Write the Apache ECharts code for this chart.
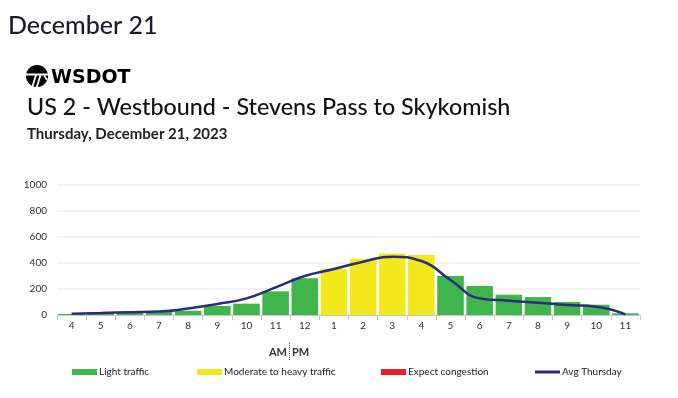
<!DOCTYPE html>
<html>
<head>
<meta charset="utf-8">
<script src="https://cdn.jsdelivr.net/npm/echarts@6/dist/echarts.min.js"></script>
<style>
html,body{margin:0;padding:0;background:#fff;}
#c{width:678px;height:398px;}
</style>
</head>
<body>
<div id="c"></div>
<script>
const hours = ['4','5','6','7','8','9','10','11','12','1','2','3','4','5','6','7','8','9','10','11'];
const volumes = [8,14,19,27,33,69,87,182,282,356,433,474,462,300,223,156,138,100,79,13];
const levels = ['light','light','light','light','light','light','light','light','light','moderate','moderate','moderate','moderate','light','light','light','light','light','light','light'];
const avgThursday = [10,16,22,27,50,85,128,213,300,354,410,449,415,269,128,110,95,77,64,5];
const yTicks = [0,200,400,600,800,1000];

const GREEN = '#40b54b', YELLOW = '#f2e81c', RED = '#ee1c25', NAVY = '#2c2c7c';
const lightData = volumes.map((v,i)=> levels[i]==='light' ? v : '-');
const modData = volumes.map((v,i)=> levels[i]==='moderate' ? v : '-');
const congData = volumes.map((v,i)=> levels[i]==='congestion' ? v : '-');

const chart = echarts.init(document.getElementById('c'), null, {renderer:'canvas'});
const FONT = 'Lato';
function legendAt(name, left, icon){
  return {data:[{name:name, icon:icon}], left:left, top:362, itemWidth:25, itemHeight:icon==='rect'?6:4, itemGap:0,
    textStyle:{fontFamily:FONT, fontSize:10, color:'#222', padding:[0,0,0,-3]}, selectedMode:false};
}
chart.setOption({
  animation:false,
  textStyle:{fontFamily:FONT},
  grid:{left:57, right:38, top:185, bottom:83},
  legend:[
    legendAt('Light traffic', 67, 'rect'),
    legendAt('Moderate to heavy traffic', 192, 'rect'),
    legendAt('Expect congestion', 376, 'rect'),
    legendAt('Avg Thursday', 530, 'path://M0,0 L25,0 L25,3 L0,3 Z')
  ],
  xAxis:{type:'category', data:hours, boundaryGap:true,
    axisLine:{lineStyle:{color:'#c8c8c8', width:1}},
    axisTick:{show:true, alignWithLabel:false, length:5, lineStyle:{color:'#c8c8c8'}},
    axisLabel:{color:'#333', fontSize:10, fontFamily:FONT, margin:6, interval:0}},
  yAxis:{type:'value', min:yTicks[0], max:yTicks[yTicks.length-1], interval:200,
    axisLine:{show:false}, axisTick:{show:false},
    axisLabel:{color:'#333', fontSize:10, fontFamily:FONT, margin:10, formatter:(v)=>String(v)},
    splitLine:{lineStyle:{color:'#eeeeee', width:1.5}}},
  series:[
    {name:'Light traffic', type:'bar', stack:'v', data:lightData, itemStyle:{color:GREEN}, barCategoryGap:'9%'},
    {name:'Moderate to heavy traffic', type:'bar', stack:'v', data:modData, itemStyle:{color:YELLOW}},
    {name:'Expect congestion', type:'bar', stack:'v', data:congData, itemStyle:{color:RED}},
    {name:'Avg Thursday', type:'line', data:avgThursday, smooth:0.5, symbol:'none',
      itemStyle:{color:NAVY}, lineStyle:{color:NAVY, width:2.5}, z:5}
  ],
  graphic:[
    {type:'text', x:8, y:26, style:{text:'December 21', font:'500 25px Lato', fill:'#1c1c28', verticalAlign:'middle'}},
    {type:'circle', shape:{cx:37, cy:76, r:11}, style:{fill:'#000'}},
    {type:'rect', shape:{x:25, y:73.5, width:24, height:2}, style:{fill:'#fff'}},
    {type:'polyline', shape:{points:[[36,75],[32,88]]}, style:{stroke:'#fff', lineWidth:1.8}},
    {type:'polyline', shape:{points:[[40.5,75],[36.5,88]]}, style:{stroke:'#fff', lineWidth:1.8}},
    {type:'polyline', shape:{points:[[44,75],[47,80]]}, style:{stroke:'#fff', lineWidth:1.5}},
    {type:'text', x:51, y:78, style:{text:'WSDOT', font:'900 19px "DejaVu Sans"', fill:'#000', verticalAlign:'middle'}},
    {type:'text', x:27, y:107, style:{text:'US 2 - Westbound - Stevens Pass to Skykomish', font:'500 23.3px Lato', fill:'#111', verticalAlign:'middle'}},
    {type:'text', x:27, y:134, style:{text:'Thursday, December 21, 2023', font:'bold 15px Lato', fill:'#222', verticalAlign:'middle'}},
    {type:'text', x:287, y:352, style:{text:'AM', font:'bold 11px Lato', fill:'#333', align:'right', verticalAlign:'middle'}},
    {type:'text', x:292, y:352, style:{text:'PM', font:'bold 11px Lato', fill:'#333', align:'left', verticalAlign:'middle'}},
    {type:'line', shape:{x1:289.5, y1:343, x2:289.5, y2:361}, style:{stroke:'#555', lineWidth:1, lineDash:[1,1]}}
  ]
});
</script>
</body>
</html>
